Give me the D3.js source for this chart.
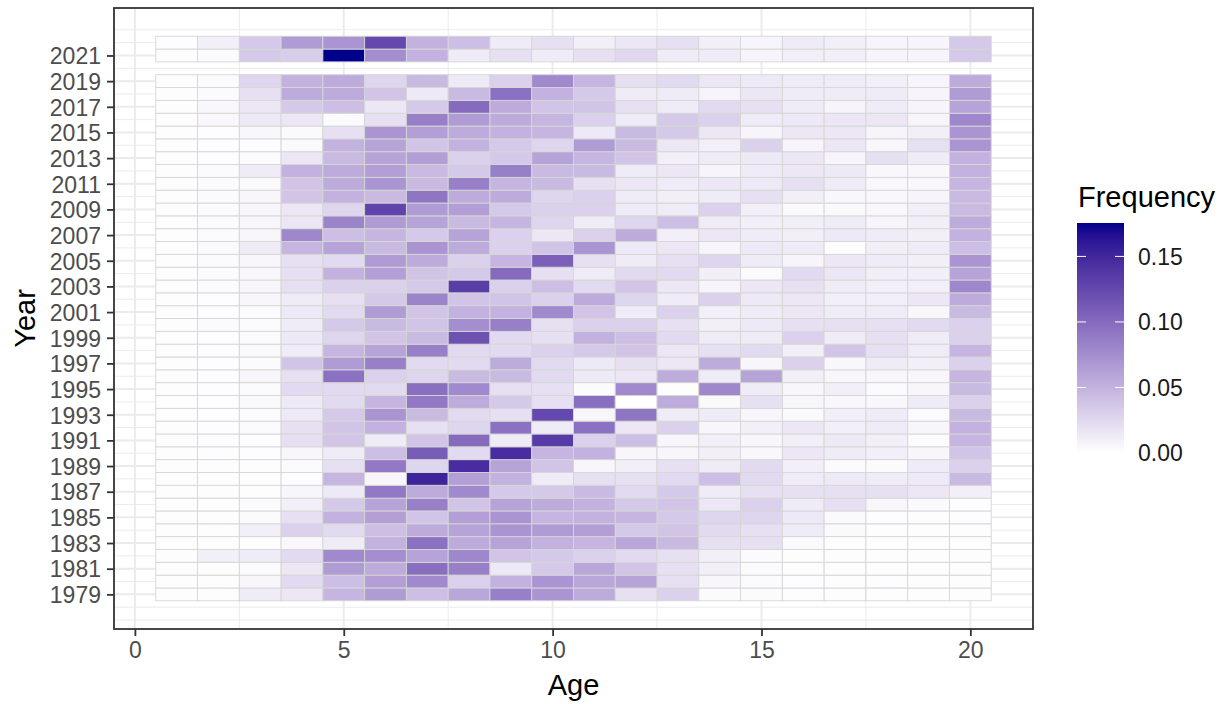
<!DOCTYPE html>
<html>
<head>
<meta charset="utf-8">
<script src="https://cdn.jsdelivr.net/npm/d3@7"></script>
<style>
  body { margin: 0; background: #fff; }
  text { font-family: "Liberation Sans", Arial, Helvetica, sans-serif; }
</style>
</head>
<body>
<div id="chart"></div>
<script>
// ages on the x axis, years on the y axis (2020 has no data)
const ages = d3.range(1, 21);
const years = d3.range(1979, 2020).concat([2021, 2022]);
const yearTicks = d3.range(1979, 2022, 2);
const ageTicks = [0, 5, 10, 15, 20];
const legendTicks = [0, 0.05, 0.10, 0.15];

// frequency by age (1..20), one row per year, same order as `years`
const freq = [
  [0.001,0.002,0.013,0.016,0.048,0.065,0.042,0.058,0.085,0.070,0.055,0.020,0.030,0.003,0.003,0.002,0.001,0.001,0.001,0.001], // 1979
  [0.001,0.001,0.006,0.024,0.042,0.063,0.078,0.030,0.050,0.070,0.058,0.060,0.020,0.006,0.003,0.002,0.001,0.002,0.001,0.001],
  [0.001,0.001,0.003,0.016,0.065,0.055,0.097,0.085,0.014,0.035,0.058,0.038,0.020,0.010,0.003,0.001,0.001,0.001,0.001,0.001],
  [0.001,0.010,0.013,0.024,0.078,0.075,0.060,0.080,0.038,0.035,0.030,0.024,0.020,0.010,0.003,0.001,0.001,0.001,0.001,0.001],
  [0.001,0.001,0.001,0.005,0.013,0.050,0.095,0.055,0.060,0.050,0.048,0.058,0.045,0.020,0.020,0.004,0.001,0.001,0.001,0.001],
  [0.001,0.002,0.010,0.030,0.024,0.042,0.055,0.060,0.070,0.065,0.063,0.035,0.038,0.024,0.020,0.013,0.004,0.002,0.001,0.001], // 1984
  [0.001,0.001,0.003,0.020,0.050,0.063,0.038,0.063,0.070,0.048,0.050,0.048,0.035,0.027,0.027,0.014,0.004,0.002,0.001,0.002],
  [0.001,0.001,0.003,0.010,0.035,0.060,0.085,0.038,0.060,0.055,0.050,0.035,0.038,0.016,0.030,0.012,0.020,0.006,0.004,0.002],
  [0.001,0.001,0.001,0.006,0.014,0.090,0.055,0.078,0.035,0.035,0.045,0.024,0.035,0.013,0.020,0.020,0.020,0.020,0.016,0.010],
  [0.001,0.001,0.001,0.002,0.048,0.006,0.152,0.063,0.050,0.013,0.020,0.020,0.024,0.042,0.024,0.012,0.014,0.012,0.014,0.045],
  [0.001,0.001,0.002,0.003,0.020,0.090,0.027,0.145,0.060,0.038,0.006,0.010,0.020,0.013,0.024,0.010,0.003,0.003,0.013,0.030], // 1989
  [0.001,0.002,0.002,0.006,0.013,0.042,0.110,0.024,0.145,0.048,0.050,0.006,0.006,0.010,0.005,0.016,0.012,0.010,0.006,0.038],
  [0.001,0.002,0.002,0.020,0.038,0.013,0.038,0.100,0.013,0.135,0.030,0.042,0.006,0.010,0.006,0.010,0.014,0.010,0.003,0.048],
  [0.001,0.002,0.003,0.020,0.038,0.050,0.020,0.027,0.095,0.012,0.095,0.016,0.030,0.006,0.010,0.016,0.010,0.012,0.006,0.050],
  [0.001,0.002,0.003,0.014,0.035,0.070,0.045,0.024,0.020,0.125,0.006,0.092,0.012,0.012,0.006,0.004,0.010,0.012,0.003,0.045],
  [0.001,0.002,0.004,0.014,0.024,0.048,0.090,0.055,0.035,0.020,0.097,0.000,0.055,0.004,0.020,0.006,0.005,0.005,0.013,0.030], // 1994
  [0.001,0.002,0.003,0.024,0.024,0.024,0.097,0.078,0.020,0.020,0.003,0.078,0.001,0.080,0.012,0.006,0.010,0.003,0.006,0.045],
  [0.001,0.002,0.006,0.020,0.095,0.030,0.027,0.045,0.045,0.024,0.014,0.016,0.055,0.012,0.060,0.010,0.006,0.006,0.006,0.048],
  [0.001,0.002,0.003,0.038,0.065,0.085,0.024,0.024,0.055,0.024,0.014,0.020,0.016,0.055,0.006,0.030,0.005,0.012,0.010,0.030],
  [0.001,0.002,0.004,0.013,0.048,0.060,0.085,0.024,0.024,0.030,0.035,0.038,0.016,0.020,0.024,0.010,0.038,0.020,0.013,0.048],
  [0.001,0.002,0.003,0.014,0.027,0.038,0.045,0.118,0.024,0.020,0.050,0.042,0.024,0.012,0.012,0.030,0.012,0.020,0.013,0.030], // 1999
  [0.001,0.003,0.003,0.012,0.035,0.045,0.038,0.075,0.085,0.020,0.030,0.030,0.020,0.010,0.014,0.020,0.020,0.020,0.024,0.030],
  [0.001,0.002,0.003,0.014,0.024,0.065,0.038,0.050,0.050,0.078,0.038,0.013,0.030,0.010,0.012,0.016,0.012,0.012,0.005,0.045],
  [0.001,0.002,0.006,0.013,0.020,0.035,0.082,0.038,0.038,0.030,0.055,0.027,0.012,0.030,0.014,0.016,0.010,0.010,0.016,0.055],
  [0.001,0.003,0.006,0.020,0.030,0.030,0.035,0.133,0.030,0.042,0.024,0.038,0.016,0.007,0.016,0.020,0.012,0.010,0.010,0.080],
  [0.001,0.003,0.006,0.020,0.050,0.063,0.038,0.035,0.100,0.020,0.013,0.024,0.024,0.010,0.003,0.024,0.016,0.010,0.010,0.060], // 2004
  [0.001,0.003,0.006,0.020,0.024,0.065,0.055,0.030,0.048,0.108,0.020,0.013,0.020,0.027,0.013,0.007,0.016,0.012,0.010,0.070],
  [0.001,0.004,0.013,0.048,0.060,0.045,0.070,0.055,0.030,0.038,0.070,0.014,0.016,0.007,0.014,0.012,0.002,0.010,0.013,0.042],
  [0.001,0.003,0.006,0.080,0.042,0.048,0.035,0.060,0.030,0.016,0.030,0.055,0.010,0.016,0.012,0.010,0.014,0.012,0.010,0.050],
  [0.001,0.003,0.006,0.016,0.082,0.065,0.060,0.045,0.048,0.027,0.012,0.027,0.042,0.012,0.010,0.010,0.013,0.007,0.010,0.055],
  [0.001,0.003,0.006,0.016,0.027,0.128,0.065,0.063,0.035,0.030,0.030,0.013,0.012,0.030,0.010,0.004,0.004,0.005,0.010,0.045], // 2009
  [0.001,0.003,0.006,0.038,0.050,0.045,0.092,0.055,0.055,0.027,0.030,0.013,0.010,0.012,0.020,0.010,0.005,0.005,0.007,0.045],
  [0.001,0.003,0.004,0.038,0.055,0.070,0.045,0.085,0.048,0.045,0.020,0.016,0.012,0.016,0.014,0.020,0.012,0.005,0.005,0.048],
  [0.001,0.003,0.012,0.050,0.055,0.063,0.045,0.035,0.085,0.045,0.045,0.013,0.016,0.007,0.013,0.016,0.014,0.005,0.005,0.050],
  [0.001,0.002,0.003,0.016,0.045,0.060,0.063,0.030,0.035,0.060,0.048,0.038,0.010,0.013,0.014,0.016,0.007,0.020,0.012,0.050],
  [0.001,0.002,0.002,0.004,0.050,0.060,0.038,0.050,0.035,0.027,0.065,0.045,0.016,0.010,0.030,0.007,0.016,0.005,0.020,0.070], // 2014
  [0.001,0.002,0.005,0.004,0.020,0.070,0.063,0.055,0.050,0.048,0.014,0.045,0.035,0.016,0.007,0.016,0.016,0.007,0.010,0.070],
  [0.001,0.005,0.014,0.016,0.003,0.020,0.085,0.065,0.055,0.048,0.030,0.012,0.035,0.030,0.012,0.014,0.016,0.016,0.007,0.080],
  [0.001,0.005,0.016,0.035,0.042,0.016,0.035,0.100,0.055,0.038,0.038,0.020,0.012,0.024,0.020,0.012,0.007,0.012,0.007,0.060],
  [0.001,0.003,0.020,0.055,0.055,0.038,0.014,0.045,0.095,0.050,0.035,0.012,0.012,0.007,0.016,0.012,0.012,0.012,0.007,0.065],
  [0.001,0.003,0.027,0.050,0.055,0.027,0.045,0.014,0.030,0.078,0.048,0.020,0.024,0.016,0.014,0.012,0.012,0.010,0.007,0.055], // 2019
  [0.001,0.003,0.035,0.032,0.1755,0.075,0.050,0.013,0.020,0.012,0.020,0.025,0.012,0.012,0.007,0.010,0.010,0.007,0.007,0.035], // 2021
  [0.002,0.010,0.035,0.065,0.070,0.125,0.050,0.042,0.013,0.020,0.010,0.016,0.020,0.010,0.007,0.012,0.010,0.007,0.007,0.035]  // 2022
];

const width = 1224, height = 704;
const panel = { left: 114, right: 1033, top: 8, bottom: 629 };

const cells = [];
years.forEach((yr, i) => {
  ages.forEach((a, j) => cells.push({ year: yr, age: a, value: freq[i][j] }));
});

const x = d3.scaleLinear().domain([-0.5, 21.5]).range([panel.left, panel.right]);
const y = d3.scaleLinear().domain([1976.3, 2024.7]).range([panel.bottom, panel.top]);
const maxVal = d3.max(cells, d => d.value);
const color = d3.scaleLinear().domain([0, maxVal]).range(["#ffffff", "#00008b"])
  .interpolate(d3.interpolateLab);

const svg = d3.select("#chart").append("svg")
  .attr("width", width)
  .attr("height", height);

// grid
const grid = svg.append("g");
const minorX = [2.5, 7.5, 12.5, 17.5];
const minorY = d3.range(1977, 2024);
grid.selectAll(".gx-minor").data(minorX).enter().append("line")
  .attr("x1", d => x(d)).attr("x2", d => x(d))
  .attr("y1", panel.top).attr("y2", panel.bottom)
  .attr("stroke", "#ebebeb").attr("stroke-width", 1);
grid.selectAll(".gy-minor").data(minorY).enter().append("line")
  .attr("y1", d => y(d)).attr("y2", d => y(d))
  .attr("x1", panel.left).attr("x2", panel.right)
  .attr("stroke", "#ebebeb").attr("stroke-width", 1);
grid.selectAll(".gx-major").data(ageTicks).enter().append("line")
  .attr("x1", d => x(d)).attr("x2", d => x(d))
  .attr("y1", panel.top).attr("y2", panel.bottom)
  .attr("stroke", "#ebebeb").attr("stroke-width", 2);
grid.selectAll(".gy-major").data(yearTicks).enter().append("line")
  .attr("y1", d => y(d)).attr("y2", d => y(d))
  .attr("x1", panel.left).attr("x2", panel.right)
  .attr("stroke", "#ebebeb").attr("stroke-width", 2);

// tiles
svg.append("g").selectAll("rect").data(cells).enter().append("rect")
  .attr("x", d => x(d.age - 0.5))
  .attr("y", d => y(d.year + 0.5))
  .attr("width", d => x(d.age + 0.5) - x(d.age - 0.5))
  .attr("height", d => y(d.year - 0.5) - y(d.year + 0.5))
  .attr("fill", d => color(d.value))
  .attr("stroke", "#d6d6d6")
  .attr("stroke-width", 0.9);

// panel border
svg.append("rect")
  .attr("x", panel.left).attr("y", panel.top)
  .attr("width", panel.right - panel.left).attr("height", panel.bottom - panel.top)
  .attr("fill", "none").attr("stroke", "#333333").attr("stroke-width", 1.8);

// axes
const xAxis = svg.append("g")
  .attr("transform", `translate(0,${panel.bottom})`)
  .call(d3.axisBottom(x).tickValues(ageTicks).tickSize(7).tickPadding(6).tickSizeOuter(0));
const yAxis = svg.append("g")
  .attr("transform", `translate(${panel.left},0)`)
  .call(d3.axisLeft(y).tickValues(yearTicks).tickFormat(d3.format("d")).tickSize(7).tickPadding(6).tickSizeOuter(0));

[xAxis, yAxis].forEach(g => {
  g.select(".domain").remove();
  g.selectAll(".tick line").attr("stroke", "#333333").attr("stroke-width", 1.8);
  g.selectAll(".tick text")
    .attr("fill", "#4d4d4d")
    .style("font-size", "23px");
});
yAxis.selectAll(".tick text").attr("dy", "0.36em");

// axis titles
svg.append("text")
  .attr("x", (panel.left + panel.right) / 2).attr("y", 695)
  .attr("text-anchor", "middle")
  .style("font-size", "29px")
  .text("Age");
svg.append("text")
  .attr("transform", `translate(35,${(panel.top + panel.bottom) / 2}) rotate(-90)`)
  .attr("text-anchor", "middle")
  .style("font-size", "29px")
  .text("Year");

// legend
const leg = { x: 1077, w: 47, top: 223, bottom: 453 };
const ly = d3.scaleLinear().domain([0, maxVal]).range([leg.bottom, leg.top]);
const grad = svg.append("defs").append("linearGradient")
  .attr("id", "freqGrad")
  .attr("x1", 0).attr("x2", 0).attr("y1", 1).attr("y2", 0);
grad.selectAll("stop").data(d3.range(0, 1.0001, 0.05)).enter().append("stop")
  .attr("offset", d => d)
  .attr("stop-color", d => color(d * maxVal));

svg.append("text")
  .attr("x", 1078).attr("y", 207)
  .style("font-size", "29px")
  .text("Frequency");

svg.append("rect")
  .attr("x", leg.x).attr("y", leg.top)
  .attr("width", leg.w).attr("height", leg.bottom - leg.top)
  .attr("fill", "url(#freqGrad)");

const lt = svg.append("g").selectAll("g").data(legendTicks).enter().append("g");
lt.append("line")
  .attr("x1", leg.x).attr("x2", leg.x + 9)
  .attr("y1", d => ly(d)).attr("y2", d => ly(d))
  .attr("stroke", "#ffffff").attr("stroke-width", 1);
lt.append("line")
  .attr("x1", leg.x + leg.w - 9).attr("x2", leg.x + leg.w)
  .attr("y1", d => ly(d)).attr("y2", d => ly(d))
  .attr("stroke", "#ffffff").attr("stroke-width", 1);
lt.append("text")
  .attr("x", 1138).attr("y", d => ly(d))
  .attr("dy", "0.36em")
  .style("font-size", "23px")
  .attr("fill", "#1a1a1a")
  .text(d => d3.format(".2f")(d));
</script>
</body>
</html>
